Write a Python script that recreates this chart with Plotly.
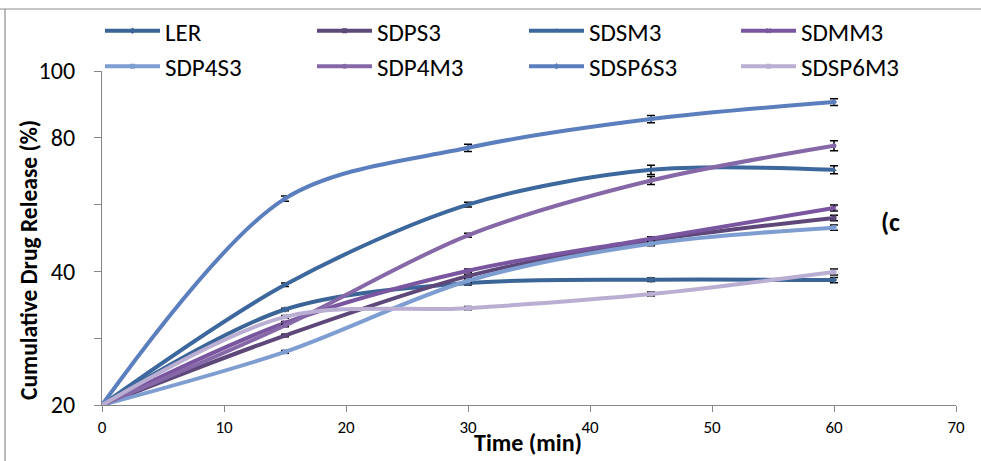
import plotly.graph_objects as go

time_min = [0, 15, 30, 45, 60]

series_names = ["LER", "SDPS3", "SDSM3", "SDMM3", "SDP4S3", "SDP4M3", "SDSP6S3", "SDSP6M3"]

LER = [0, 28.6, 36.5, 37.5, 37.4]
SDPS3 = [0, 20.8, 38.6, 49.2, 56.0]
SDSM3 = [0, 36.0, 60.0, 70.4, 70.4]
SDMM3 = [0, 24.6, 40.2, 49.8, 59.0]
SDP4S3 = [0, 15.9, 37.2, 48.3, 53.1]
SDP4M3 = [0, 23.8, 50.8, 67.2, 77.6]
SDSP6S3 = [0, 61.8, 77.0, 85.6, 90.7]
SDSP6M3 = [0, 26.4, 29.0, 33.2, 39.8]

LER_err = [0, 0.4, 0.6, 0.5, 0.8]
SDPS3_err = [0, 0.4, 0.5, 0.6, 0.8]
SDSM3_err = [0, 0.5, 0.7, 1.4, 1.2]
SDMM3_err = [0, 0.4, 0.5, 0.6, 0.9]
SDP4S3_err = [0, 0.4, 0.5, 0.6, 0.8]
SDP4M3_err = [0, 0.4, 0.6, 1.2, 1.5]
SDSP6S3_err = [0, 0.8, 1.1, 1.1, 1.0]
SDSP6M3_err = [0, 0.4, 0.5, 0.6, 0.9]

y_tick_vals = [0, 20, 40, 60, 80, 100]
y_tick_text = ["20", "", "40", "", "80", "100"]
x_tick_vals = [0, 10, 20, 30, 40, 50, 60, 70]

values = [LER, SDPS3, SDSM3, SDMM3, SDP4S3, SDP4M3, SDSP6S3, SDSP6M3]
errors = [LER_err, SDPS3_err, SDSM3_err, SDMM3_err, SDP4S3_err, SDP4M3_err, SDSP6S3_err, SDSP6M3_err]
colors = ["#3B6497", "#5E4879", "#3D689D", "#7A56A0", "#7E9ED2", "#8668A8", "#5B7EBE", "#BBAED3"]
symbols = ["diamond", "square", "triangle-up", "x", "square", "circle", "diamond", "square"]

FONT = "Carlito, Lato, sans-serif"

fig = go.Figure()
for name, vals, err, col, sym in zip(series_names, values, errors, colors, symbols):
    fig.add_trace(go.Scatter(
        x=time_min, y=vals, name=name, mode="lines+markers",
        line=dict(color=col, width=4, shape="spline", smoothing=0.9),
        marker=dict(color=col, size=5, symbol=sym),
        error_y=dict(type="data", array=err, visible=True, color="black", thickness=1.5, width=4),
    ))

fig.update_layout(
    width=981, height=461,
    margin=dict(l=102, r=25, t=71, b=56, autoexpand=False),
    paper_bgcolor="white", plot_bgcolor="white",
    font=dict(family=FONT, color="black"),
    showlegend=True,
    legend=dict(
        orientation="h", xref="container", yref="container",
        x=100 / 981, xanchor="left", y=1 - 8 / 461, yanchor="top",
        entrywidth=142, entrywidthmode="pixels", itemwidth=55,
        font=dict(size=25, family=FONT), bgcolor="rgba(0,0,0,0)",
        tracegroupgap=0,
    ),
    xaxis=dict(
        range=[0, 70], tickvals=x_tick_vals, showgrid=False, zeroline=False,
        showline=True, linecolor="#868686", linewidth=1.2,
        ticks="outside", ticklen=6, tickcolor="#868686",
        tickfont=dict(size=17, family=FONT), automargin=False,
    ),
    yaxis=dict(
        range=[0, 100], tickvals=y_tick_vals, ticktext=y_tick_text,
        showgrid=False, zeroline=False,
        showline=True, linecolor="#868686", linewidth=1.2,
        ticks="outside", ticklen=7, tickcolor="#868686", ticklabelstandoff=14,
        tickfont=dict(size=24, family=FONT), automargin=False,
    ),
    annotations=[
        dict(text="<b>Time (min)</b>", xref="paper", yref="paper",
             x=(528 - 102) / 854, y=(405 - 442) / 334, xanchor="center", yanchor="middle",
             showarrow=False, font=dict(size=24, family=FONT)),
        dict(text="<b>Cumulative Drug Release (%)</b>", xref="paper", yref="paper",
             x=(29 - 102) / 854, y=(405 - 260) / 334, xanchor="center", yanchor="middle",
             textangle=-90, showarrow=False, font=dict(size=23.5, family=FONT)),
        dict(text="<b>(c</b>", xref="paper", yref="paper",
             x=(879 - 102) / 854, y=(405 - 222) / 334, xanchor="left", yanchor="middle",
             showarrow=False, font=dict(size=26, family=FONT)),
    ],
    shapes=[
        dict(type="line", xref="paper", yref="paper",
             x0=(0 - 102) / 854, x1=(981 - 102) / 854,
             y0=(405 - 9) / 334, y1=(405 - 9) / 334,
             line=dict(color="#8c8c8c", width=1.2)),
        dict(type="line", xref="paper", yref="paper",
             x0=(5 - 102) / 854, x1=(5 - 102) / 854,
             y0=(405 - 9) / 334, y1=(405 - 470) / 334,
             line=dict(color="#8c8c8c", width=1.2)),
    ],
)

fig.write_html("out.html", config={"displayModeBar": False},
               post_script="document.body.style.margin='0';document.body.style.overflow='hidden';")
